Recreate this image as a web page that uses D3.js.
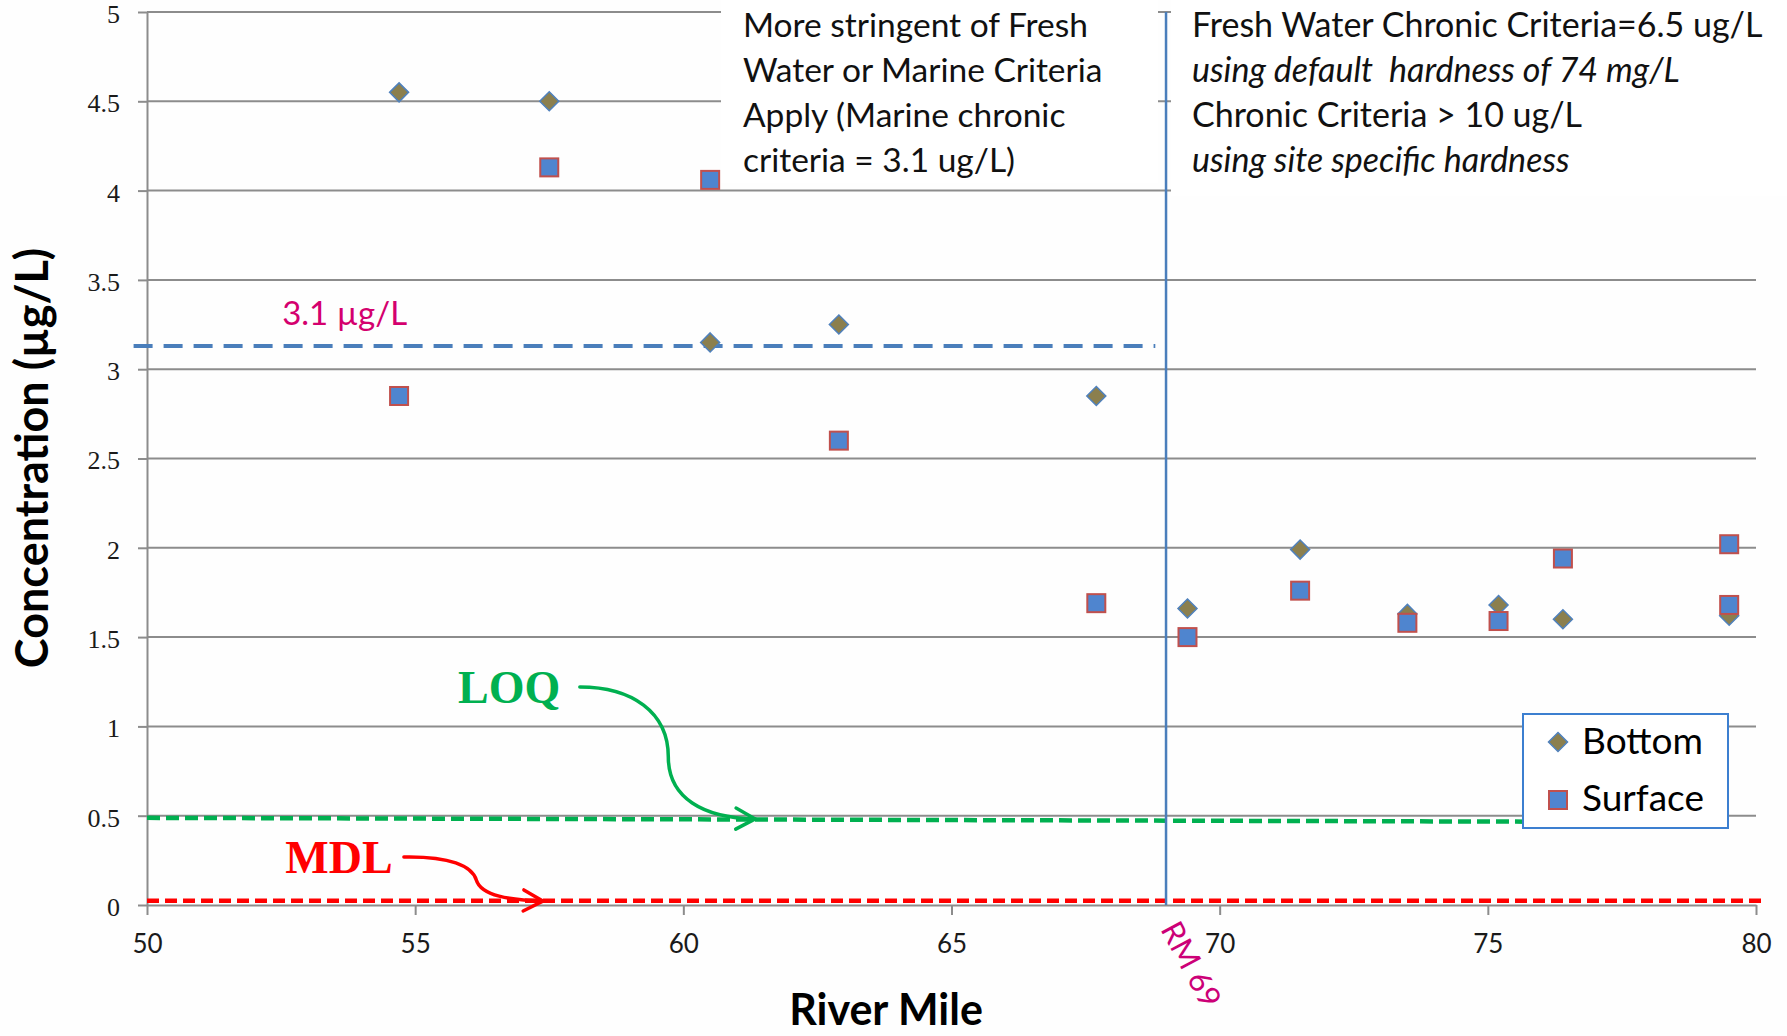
<!DOCTYPE html>
<html>
<head>
<meta charset="utf-8">
<script src="https://cdn.jsdelivr.net/npm/d3@7"></script>
<style>
  body { margin: 0; background: #fff; }
  svg { display: block; }
</style>
</head>
<body>
<script>
// sampling stations (river mile) and dissolved concentrations, ug/L
const bottomMiles   = [54.7, 57.5, 60.5, 62.9, 67.7, 69.4, 71.5, 73.5, 75.2, 76.4, 79.5];
const bottomValues  = [4.55, 4.50, 3.15, 3.25, 2.85, 1.66, 1.99, 1.63, 1.68, 1.60, 1.62];
const surfaceMiles  = [54.7, 57.5, 60.5, 62.9, 67.7, 69.4, 71.5, 73.5, 75.2, 76.4, 79.5, 79.5];
const surfaceValues = [2.85, 4.13, 4.06, 2.60, 1.69, 1.50, 1.76, 1.58, 1.59, 1.94, 2.02, 1.68];

const xTicks = [50, 55, 60, 65, 70, 75, 80];
const yTicks = [0, 0.5, 1, 1.5, 2, 2.5, 3, 3.5, 4, 4.5, 5];

// reference lines (river mile, concentration)
const marineLine = [[49.75, 3.13], [68.8, 3.13]];
const loqLine    = [[50, 0.488], [76.6, 0.466]];
const mdlLine    = [[50, 0.024], [80.15, 0.024]];
const rmMile = 69;

// curved annotation arrows as two cubic segments (start, c1, c2, mid, c3, c4, end), data units
const loqArrow = [[58.07, 1.221], [59.04, 1.221], [59.72, 1.081], [59.72, 0.829],
                  [59.72, 0.599], [60.37, 0.487], [61.34, 0.482]];
const mdlArrow = [[54.79, 0.269], [55.65, 0.274], [56.06, 0.218], [56.14, 0.140],
                  [56.23, 0.050], [56.77, 0.028], [57.38, 0.022]];

const leftNote  = ["More stringent of Fresh", "Water or Marine Criteria",
                   "Apply (Marine chronic", "criteria = 3.1 ug/L)"];
const rightNote = ["Fresh Water Chronic Criteria=6.5 ug/L", "using default  hardness of 74 mg/L",
                   "Chronic Criteria > 10 ug/L", "using site specific hardness"];
const rightItalic = [false, true, false, true];

const W = 1787, H = 1036;
const sans = "Lato, 'Open Sans', sans-serif";
const serif = "'Liberation Serif', 'DejaVu Serif', serif";
const gridColor = "#8c8c8c";

const svg = d3.select("body").append("svg")
  .attr("width", W)
  .attr("height", H);

svg.append("rect").attr("width", W).attr("height", H).attr("fill", "#fefefe");

const x = d3.scaleLinear().domain([50, 80]).range([147, 1756]);
const y = d3.scaleLinear().domain([0, 5]).range([905, 12]);

// gridlines
svg.append("g")
  .selectAll("line")
  .data(yTicks.filter(d => d > 0))
  .enter().append("line")
    .attr("x1", x(50)).attr("x2", x(80))
    .attr("y1", d => y(d)).attr("y2", d => y(d))
    .attr("stroke", gridColor)
    .attr("stroke-width", 2);

// axes
const yAxis = svg.append("g")
  .attr("transform", `translate(${x(50)},0)`)
  .call(d3.axisLeft(y).tickValues(yTicks).tickFormat(d3.format("~g"))
    .tickSize(9).tickSizeOuter(0).tickPadding(18));

const xAxis = svg.append("g")
  .attr("transform", `translate(0,${y(0)})`)
  .call(d3.axisBottom(x).tickValues(xTicks).tickSize(10).tickSizeOuter(0).tickPadding(20));

[yAxis, xAxis].forEach(a => {
  a.select(".domain").attr("stroke", gridColor).attr("stroke-width", 2);
  a.selectAll(".tick line").attr("stroke", gridColor).attr("stroke-width", 2);
});
yAxis.selectAll(".tick text")
  .attr("font-family", serif).attr("font-size", 26).attr("fill", "#1a1a1a")
  .attr("dy", "0.4em");
xAxis.selectAll(".tick text")
  .attr("font-family", sans).attr("font-size", 26).attr("fill", "#1a1a1a");

// white boxes behind the criteria notes
svg.append("rect").attr("x", 721).attr("y", 0).attr("width", 437).attr("height", 183).attr("fill", "#fff");
svg.append("rect").attr("x", 1171).attr("y", 0).attr("width", W - 1171).attr("height", 196).attr("fill", "#fff");

const line = d3.line().x(d => x(d[0])).y(d => y(d[1]));

// criteria / detection lines
svg.append("path").attr("d", line(marineLine))
  .attr("stroke", "#4a7ebb").attr("stroke-width", 4).attr("stroke-dasharray", "19,11").attr("fill", "none");
svg.append("path").attr("d", line(loqLine))
  .attr("stroke", "#00b050").attr("stroke-width", 4.5).attr("stroke-dasharray", "13,6").attr("fill", "none");
svg.append("path").attr("d", line(mdlLine))
  .attr("stroke", "#ff0000").attr("stroke-width", 4.5).attr("stroke-dasharray", "12,6").attr("fill", "none");

svg.append("line")
  .attr("x1", x(rmMile)).attr("x2", x(rmMile))
  .attr("y1", y(5)).attr("y2", y(0))
  .attr("stroke", "#4a7ebb").attr("stroke-width", 2.5);

// markers
const diamond = "M0,-9.5L9.5,0L0,9.5L-9.5,0Z";
const bottom = bottomMiles.map((m, i) => ({ mile: m, value: bottomValues[i] }));
const surface = surfaceMiles.map((m, i) => ({ mile: m, value: surfaceValues[i] }));

svg.append("g").selectAll("path")
  .data(bottom)
  .enter().append("path")
    .attr("d", diamond)
    .attr("transform", d => `translate(${x(d.mile)},${y(d.value)})`)
    .attr("fill", "#8b7f4e")
    .attr("stroke", "#4f81bd")
    .attr("stroke-width", 1.5);

svg.append("g").selectAll("rect")
  .data(surface)
  .enter().append("rect")
    .attr("x", d => x(d.mile) - 9)
    .attr("y", d => y(d.value) - 9)
    .attr("width", 18).attr("height", 18)
    .attr("fill", "#4f85cf")
    .attr("stroke", "#c0504d")
    .attr("stroke-width", 2);

// legend
const legend = svg.append("g").attr("transform", "translate(1523,714)");
legend.append("rect").attr("width", 205).attr("height", 114)
  .attr("fill", "#fff").attr("stroke", "#3c7fd0").attr("stroke-width", 2);
legend.append("path").attr("d", diamond).attr("transform", "translate(35,28)")
  .attr("fill", "#8b7f4e").attr("stroke", "#4f81bd").attr("stroke-width", 1.5);
legend.append("rect").attr("x", 26).attr("y", 77).attr("width", 18).attr("height", 18)
  .attr("fill", "#4f85cf").attr("stroke", "#c0504d").attr("stroke-width", 2);
legend.append("text").attr("x", 59).attr("y", 40).attr("font-family", sans).attr("font-size", 37).text("Bottom");
legend.append("text").attr("x", 59).attr("y", 97).attr("font-family", sans).attr("font-size", 37).text("Surface");

// notes in the top boxes
leftNote.forEach((t, i) => {
  svg.append("text").attr("x", 743).attr("y", 37 + i * 45)
    .attr("font-family", sans).attr("font-size", 33.5).attr("fill", "#111").text(t);
});
rightNote.forEach((t, i) => {
  svg.append("text").attr("x", 1192).attr("y", 37 + i * 45)
    .attr("font-family", sans).attr("font-size", 34).attr("fill", "#111")
    .attr("font-style", rightItalic[i] ? "italic" : "normal")
    .attr("xml:space", "preserve")
    .text(t);
});

// labels on the reference lines
svg.append("text").attr("x", x(52.52)).attr("y", y(3.247))
  .attr("font-family", sans).attr("font-size", 33).attr("fill", "#d4006e").text("3.1 µg/L");

svg.append("text").attr("x", x(55.8)).attr("y", y(1.131))
  .attr("font-family", serif).attr("font-weight", "bold").attr("font-size", 46)
  .attr("fill", "#00b050").text("LOQ");
svg.append("text").attr("x", x(52.58)).attr("y", y(0.179))
  .attr("font-family", serif).attr("font-weight", "bold").attr("font-size", 46)
  .attr("fill", "#ff0000").text("MDL");

function drawArrow(pts, color) {
  const p = pts.map(d => [x(d[0]), y(d[1])]);
  const d = `M${p[0]}C${p[1]} ${p[2]} ${p[3]}C${p[4]} ${p[5]} ${p[6]}`;
  svg.append("path").attr("d", d)
    .attr("fill", "none").attr("stroke", color).attr("stroke-width", 3.5).attr("stroke-linecap", "round");
  const [tx, ty] = p[6];
  const ang = Math.atan2(ty - p[5][1], tx - p[5][0]);
  const len = 22, spread = 0.5;
  const p1 = [tx - len * Math.cos(ang - spread), ty - len * Math.sin(ang - spread)];
  const p2 = [tx - len * Math.cos(ang + spread), ty - len * Math.sin(ang + spread)];
  svg.append("path").attr("d", `M${p1}L${tx},${ty}L${p2}`)
    .attr("fill", "none").attr("stroke", color).attr("stroke-width", 3.5)
    .attr("stroke-linecap", "round").attr("stroke-linejoin", "round");
}
drawArrow(loqArrow, "#00b050");
drawArrow(mdlArrow, "#ff0000");

svg.append("text")
  .attr("transform", `translate(${x(rmMile) - 6},${y(0) + 24}) rotate(62)`)
  .attr("font-family", sans).attr("font-size", 31).attr("fill", "#cc0077")
  .text("RM 69");

// axis titles
svg.append("text")
  .attr("x", 886).attr("y", 1025)
  .attr("text-anchor", "middle")
  .attr("font-family", sans).attr("font-weight", "bold").attr("font-size", 43)
  .text("River Mile");

svg.append("text")
  .attr("transform", "translate(48,458) rotate(-90)")
  .attr("text-anchor", "middle")
  .attr("font-family", sans).attr("font-weight", "bold").attr("font-size", 45)
  .text("Concentration (µg/L)");
</script>
</body>
</html>
